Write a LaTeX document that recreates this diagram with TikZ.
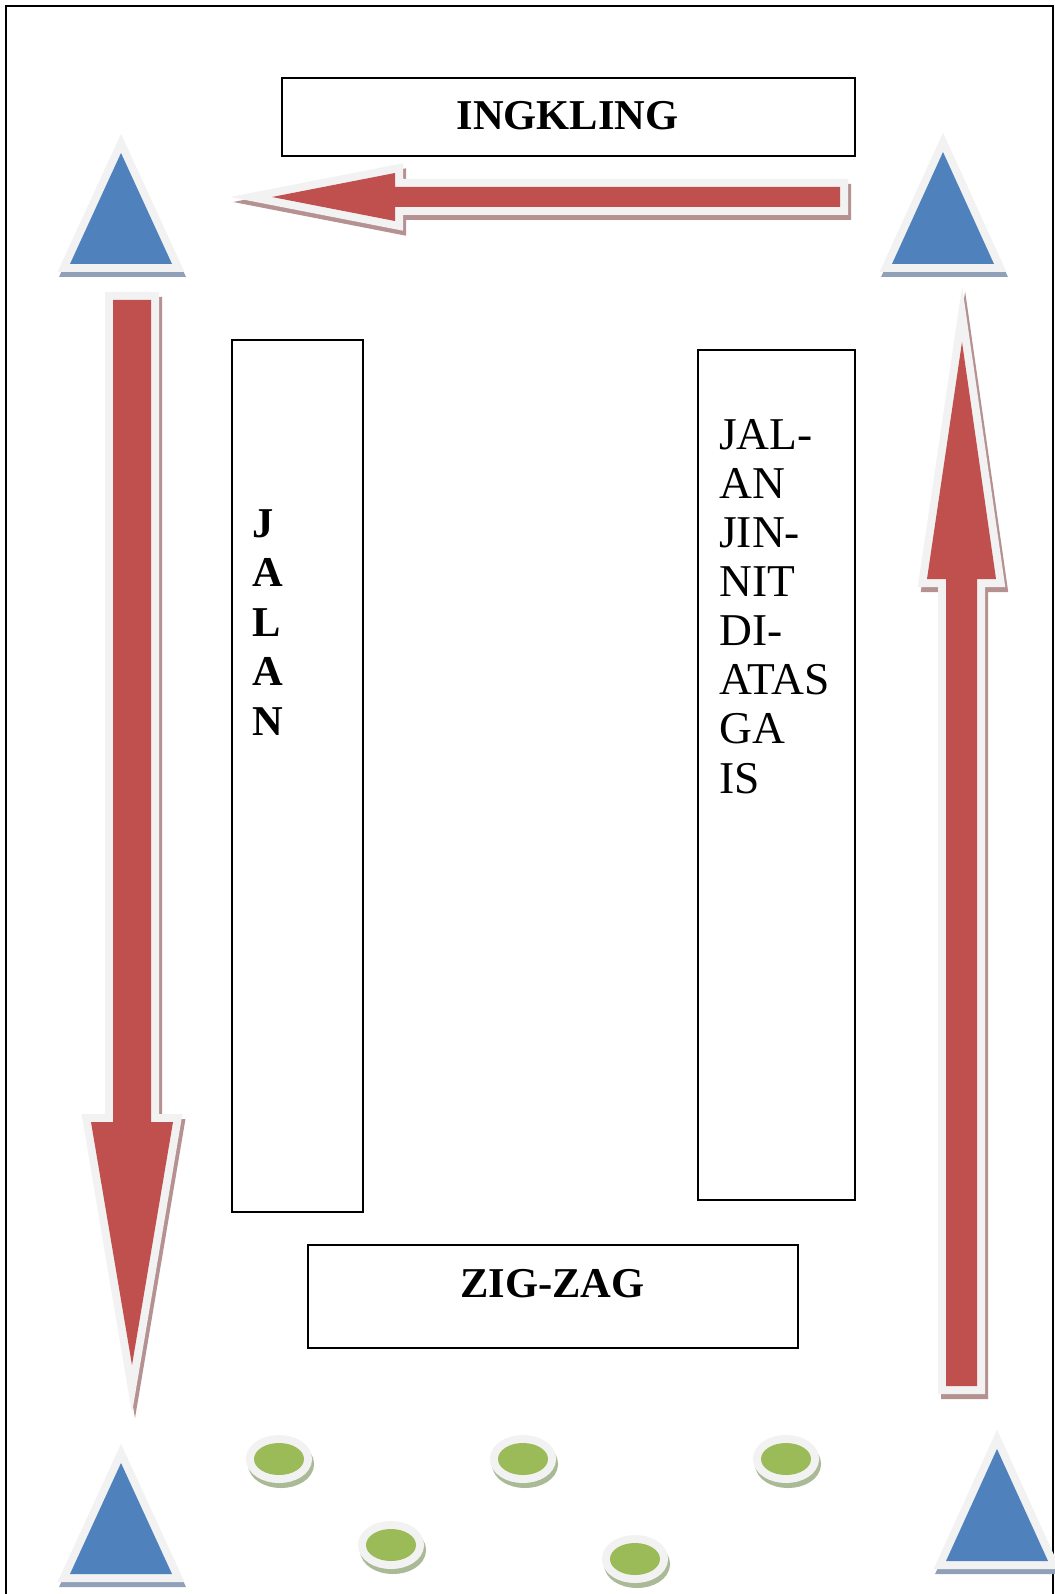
\documentclass[tikz,border=0pt]{standalone}
\usepackage{fontspec}
\setmainfont{Liberation Serif}
\definecolor{arrowred}{HTML}{C0504D}
\definecolor{arrowshade}{RGB}{181,145,145}
\definecolor{rim}{HTML}{F2F2F2}
\definecolor{coneblue}{HTML}{4F81BD}
\definecolor{coneshade}{RGB}{143,160,184}
\definecolor{stonegreen}{HTML}{9BBB59}
\definecolor{stoneshade}{RGB}{170,186,150}
\begin{document}
\begin{tikzpicture}[x=1pt,y=-1pt,
    cone/.style={fill=coneblue,
        preaction={transform canvas={shift={(1.5,5)}}, fill=coneshade, draw=coneshade, line width=16, line join=miter},
        preaction={fill=rim, draw=rim, line width=16, line join=miter}},
    stone/.style={fill=stonegreen,
        preaction={transform canvas={shift={(2,5)}}, fill=stoneshade, draw=stoneshade, line width=16},
        preaction={fill=rim, draw=rim, line width=16}},
    blockarrow/.style={fill=arrowred,
        preaction={transform canvas={shift={(3,5)}}, fill=arrowshade, draw=arrowshade, line width=16, line join=miter},
        preaction={fill=rim, draw=rim, line width=16, line join=miter}}]
        \useasboundingbox (0,0) rectangle (1054,1594);
        % frame
        \draw[line width=1.8] (6,1594) -- (6,6) -- (1053,6) -- (1053,1594);
        % cones in the corners
        \path[cone] (121,153) -- (172,264) -- (70,264) -- cycle;
        \path[cone] (943,152) -- (994,264) -- (892,264) -- cycle;
        \path[cone] (121,1463) -- (172,1574) -- (70,1574) -- cycle;
        \path[cone] (997,1449) -- (1048,1561) -- (946,1561) -- cycle;
        % stones for the zig-zag
        \path[stone] (279,1459) ellipse [x radius=25, y radius=16];
        \path[stone] (523,1459) ellipse [x radius=25, y radius=16];
        \path[stone] (786,1459) ellipse [x radius=25, y radius=16];
        \path[stone] (391,1545) ellipse [x radius=25, y radius=16];
        \path[stone] (635,1559) ellipse [x radius=25, y radius=16];
        % walking direction
        \path[blockarrow] (272,197) -- (395,173) -- (395,187) -- (840,187) -- (840,207) -- (395,207) -- (395,221) -- cycle;
        \path[blockarrow] (113,300) -- (151,300) -- (151,1122) -- (173,1122) -- (132,1365) -- (91,1122) -- (113,1122) -- cycle;
        \path[blockarrow] (946,1386) -- (946,579) -- (927,579) -- (962,342) -- (996,579) -- (977,579) -- (977,1386) -- cycle;
        \begin{scope}[every node/.style={draw, line width=1.3, inner sep=0}]
            \node[minimum width=573, minimum height=78] (ingklingbox) at (568.5,117) {};
            \node[minimum width=131, minimum height=872] (jalanbox) at (297.5,776) {};
            \node[minimum width=157, minimum height=850] (jinjitbox) at (776.5,775) {};
            \node[minimum width=490, minimum height=103] (zigzagbox) at (553,1296.5) {};
        \end{scope}
        \begin{scope}[every node/.style={inner sep=0, font=\fontsize{42.5}{50}\selectfont\bfseries}]
            \node[anchor=base] (ingkling) at (567.5,130) {INGKLING};
            \node[anchor=base] (zigzag) at (552.5,1297) {ZIG-ZAG};
            \node[anchor=base west] (jl1) at (252,537) {J};
            \node[anchor=base west] (jl2) at (252,586.5) {A};
            \node[anchor=base west] (jl3) at (252,636) {L};
            \node[anchor=base west] (jl4) at (252,685.5) {A};
            \node[anchor=base west] (jl5) at (252,735) {N};
        \end{scope}
        \begin{scope}[every node/.style={inner sep=0, anchor=base west, font=\fontsize{45.5}{50}\selectfont}]
            \node (jj1) at (719,449) {JAL-};
            \node (jj2) at (719,498) {AN};
            \node (jj3) at (719,547) {JIN-};
            \node (jj4) at (719,596) {NIT};
            \node (jj5) at (719,645.5) {DI-};
            \node (jj6) at (719,694.5) {ATAS};
            \node (jj7) at (719,743.5) {GA};
            \node (jj8) at (719,793) {IS};
        \end{scope}
    \end{tikzpicture}
\end{document}
